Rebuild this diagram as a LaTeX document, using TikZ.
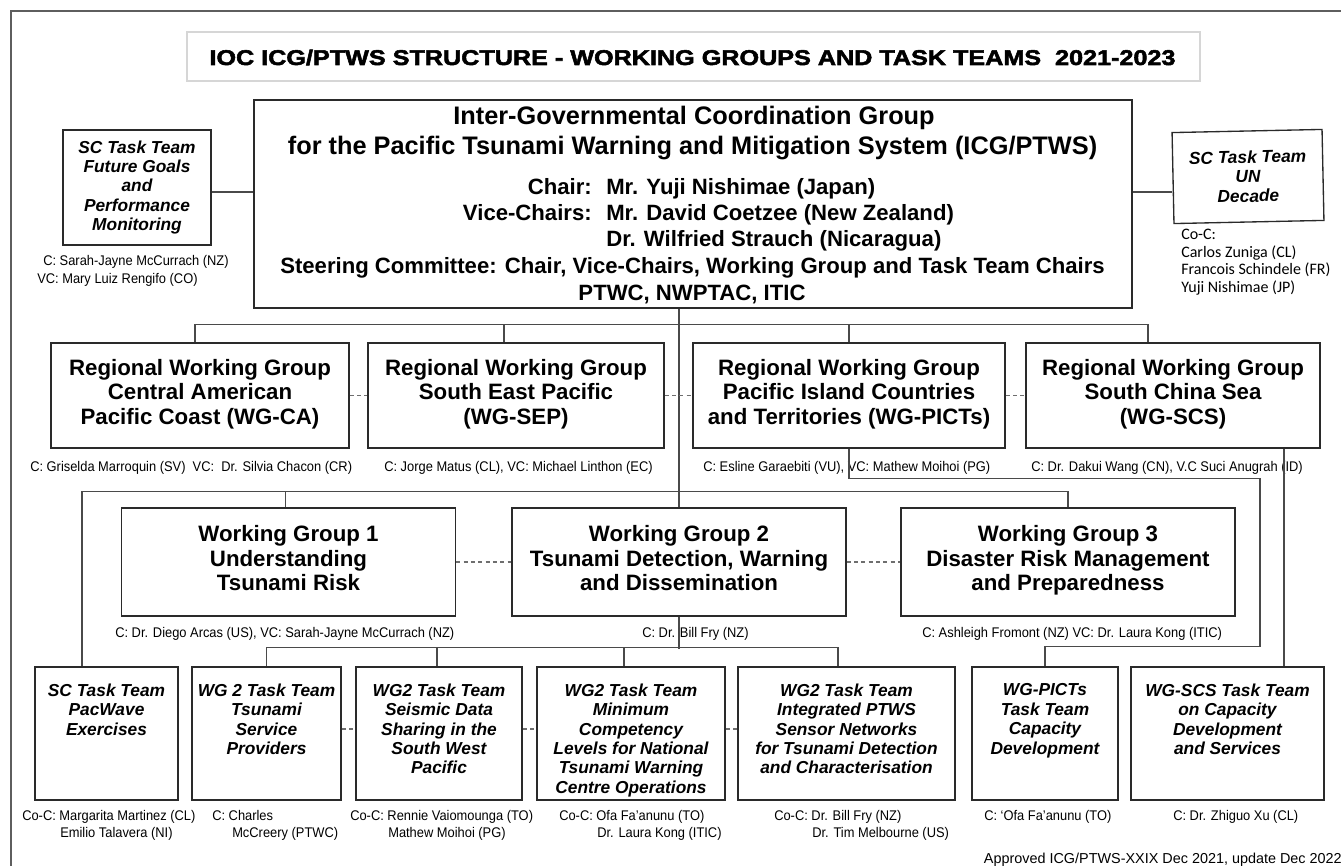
\documentclass[tikz,border=0pt]{standalone}
\usepackage{fontspec}
\setmainfont{Liberation Sans}
\newfontfamily\notefont{Liberation Sans}[FakeStretch=0.92]
\newfontfamily\calfont{Carlito}
\newfontfamily\heavyfont{Liberation Sans}[BoldFeatures={FakeBold=2.5,FakeStretch=1.18}]
\usetikzlibrary{positioning, calc}
\definecolor{boxline}{HTML}{2A2A2A}
\definecolor{connline}{HTML}{4A4A4A}
\definecolor{frameline}{HTML}{5E5E5E}
\definecolor{titleline}{HTML}{D6D6D6}
\tikzset{
  grpbox/.style={draw=boxline, line width=1pt, inner sep=0pt, align=center,
    font=\fontsize{16.7}{18.4}\selectfont\bfseries,
    execute at begin node={\strut}, execute at end node={\strut}},
  ttbox/.style={draw=boxline, line width=1pt, inner sep=0pt},
  scbox/.style={ttbox, align=center, font=\fontsize{13}{14.6}\selectfont\bfseries\itshape},
  conn/.style={draw=connline, line width=0.8pt},
  dashconn/.style={draw=connline!80, line width=0.8pt, dash pattern=on 3pt off 2.5pt},
  note/.style={inner sep=0pt, anchor=base west, font=\notefont\fontsize{10.5}{12.75}\selectfont},
  headtxt/.style={inner sep=0pt, anchor=base, font=\fontsize{19}{22}\selectfont\bfseries},
  chairtxt/.style={inner sep=0pt, font=\fontsize{16.6}{19}\selectfont\bfseries},
}

\begin{document}
\begin{tikzpicture}[x=0.75pt,y=-0.75pt]
    \useasboundingbox (0,0) rectangle (1341,866);
    \fill[white] (0,0) rectangle (1341,866);
    % frame and title
    \draw[frameline, line width=0.9pt] (11,880) -- (11,11) -- (1360,11);
    \node[draw=titleline, line width=1.4pt, minimum width=1013*0.75pt, minimum height=49*0.75pt, inner sep=0pt] (title) at (693.5,56.5) {};
    \node[inner sep=0pt, anchor=base, font=\heavyfont\fontsize{16}{18}\selectfont\bfseries] (titletxt) at (692.5,65) {IOC ICG/PTWS STRUCTURE - WORKING GROUPS AND TASK TEAMS\ \ 2021-2023};

    % ICG/PTWS
    \node[draw=boxline, line width=1pt, minimum width=878*0.75pt, minimum height=208*0.75pt, inner sep=0pt] (icg) at (693,204) {};
    \node[headtxt] (icgname) at (694,125) {Inter-Governmental Coordination Group};
    \node[headtxt] (icgfull) at (692.5,155) {for the Pacific Tsunami Warning and Mitigation System (ICG/PTWS)};
    \node[chairtxt, anchor=base east] (chairlbl) at (592,195) {Chair:};
    \node[chairtxt, anchor=base west] (chairnm) at (606,195) {Mr. Yuji Nishimae (Japan)};
    \node[chairtxt, anchor=base east] (vicelbl) at (592,221) {Vice-Chairs:};
    \node[chairtxt, anchor=base west] (vicenma) at (606,221) {Mr. David Coetzee (New Zealand)};
    \node[chairtxt, anchor=base west] (vicenmb) at (606,247) {Dr. Wilfried Strauch (Nicaragua)};
    \node[chairtxt, anchor=base] (steer) at (692.5,273) {Steering Committee: Chair, Vice-Chairs, Working Group and Task Team Chairs};
    \node[chairtxt, anchor=base] (ptwc) at (692,300) {PTWC, NWPTAC, ITIC};

    % steering committee task teams
    \node[scbox, minimum width=148*0.75pt, minimum height=115*0.75pt] (scfuture) at (137,187.5) {SC Task Team\\Future Goals\\and\\Performance\\Monitoring};
    \node[scbox, rotate=1.2, minimum width=150*0.75pt, minimum height=91*0.75pt] (scdecade) at (1248,176.5) {SC Task Team\\UN\\Decade};
    \draw[conn] ([yshift=-3.4pt]scfuture.east) -- ([yshift=-3.4pt]scfuture.east -| icg.west);
    \draw[conn] ([yshift=-3.4pt]icg.east |- scfuture.east) -- ([yshift=-3.4pt]scdecade.west |- scfuture.east);
    \node[note] (scfuturec) at (43,265) {C: Sarah-Jayne McCurrach (NZ)};
    \node[note] (scfuturevc) at (37,283) {VC: Mary Luiz Rengifo (CO)};
    \node[inner sep=0pt, anchor=north west, align=left, font=\calfont\fontsize{12}{13.2}\selectfont] (scdecadec) at (1181,229) {Co-C:\\Carlos Zuniga (CL)\\Francois Schindele (FR)\\Yuji Nishimae (JP)};

    % regional working groups
    \foreach \nm/\cx/\w/\txt in {
        rwgca/200/298/{Regional Working Group\\Central American\\Pacific Coast (WG-CA)},
        rwgsep/516/296/{Regional Working Group\\South East Pacific\\(WG-SEP)},
        rwgpicts/849/312/{Regional Working Group\\Pacific Island Countries\\and Territories (WG-PICTs)},
        rwgscs/1173/294/{Regional Working Group\\South China Sea\\(WG-SCS)}}
        \node[grpbox, minimum width=\w*0.75pt, minimum height=105*0.75pt] (\nm) at (\cx,395.5) {\txt};
    \node[note] (rwgcanote) at (30,471) {C: Griselda Marroquin (SV)\ \ VC:\ \ Dr. Silvia Chacon (CR)};
    \node[note] (rwgsepnote) at (384,471) {C: Jorge Matus (CL), VC: Michael Linthon (EC)};
    \node[note] (rwgpictsnote) at (703,471) {C: Esline Garaebiti (VU), VC: Mathew Moihoi (PG)};
    \node[note] (rwgscsnote) at (1031,471) {C: Dr. Dakui Wang (CN), V.C Suci Anugrah (ID)};

    % working groups
    \foreach \nm/\cx/\txt in {
        wgone/288.5/{Working Group 1\\Understanding\\Tsunami Risk},
        wgtwo/679/{Working Group 2\\Tsunami Detection, Warning\\and Dissemination},
        wgthree/1068/{Working Group 3\\Disaster Risk Management\\and Preparedness}}
        \node[grpbox, minimum width=334*0.75pt, minimum height=108*0.75pt] (\nm) at (\cx,562) {\txt};
    \node[note] (wgonenote) at (115,637) {C: Dr. Diego Arcas (US), VC: Sarah-Jayne McCurrach (NZ)};
    \node[note] (wgtwonote) at (642,637) {C: Dr. Bill Fry (NZ)};
    \node[note] (wgthreenote) at (922,637) {C: Ashleigh Fromont (NZ) VC: Dr. Laura Kong (ITIC)};

    % task teams
    \foreach \nm/\cx/\w/\txt in {
        ttpacwave/106.5/143/{SC Task Team\\PacWave\\Exercises},
        tttsp/266.5/149/{WG 2 Task Team\\Tsunami\\Service\\Providers},
        ttseismic/439/166/{WG2 Task Team\\Seismic Data\\Sharing in the\\South West\\Pacific},
        ttmincomp/631/188/{WG2 Task Team\\Minimum\\Competency\\Levels for National\\Tsunami Warning\\Centre Operations},
        ttsensor/846.5/217/{WG2 Task Team\\Integrated PTWS\\Sensor Networks\\for Tsunami Detection\\and Characterisation},
        ttpictscd/1045/146/{WG-PICTs\\Task Team\\Capacity\\Development},
        ttscscd/1227.5/193/{WG-SCS Task Team\\on Capacity\\Development\\and Services}}
        \node[ttbox, minimum width=\w*0.75pt, minimum height=133*0.75pt, font=\fontsize{13}{14.6}\selectfont\bfseries\itshape] (\nm) at (\cx,733.5)
            {\parbox[c][99pt][t]{0.75\dimexpr\w pt\relax}{\centering\vspace*{12pt}\txt}};
    \node[note] (pacwavea) at (22,820) {Co-C: Margarita Martinez (CL)};
    \node[note] (pacwaveb) at (60,837) {Emilio Talavera (NI)};
    \node[note] (tspa) at (212,820) {C: Charles};
    \node[note] (tspb) at (232,837) {McCreery (PTWC)};
    \node[note] (seismica) at (350,820) {Co-C: Rennie Vaiomounga (TO)};
    \node[note] (seismicb) at (388,837) {Mathew Moihoi (PG)};
    \node[note] (mincompa) at (559,820) {Co-C: Ofa Fa’anunu (TO)};
    \node[note] (mincompb) at (597,837) {Dr. Laura Kong (ITIC)};
    \node[note] (sensora) at (774,820) {Co-C: Dr. Bill Fry (NZ)};
    \node[note] (sensorb) at (812,837) {Dr. Tim Melbourne (US)};
    \node[note] (pictscda) at (984,820) {C: ‘Ofa Fa’anunu (TO)};
    \node[note] (scscda) at (1173,820) {C: Dr. Zhiguo Xu (CL)};
    \node[inner sep=0pt, anchor=base east, font=\fontsize{10.8}{13}\selectfont] (approved) at (1342,863) {Approved ICG/PTWS-XXIX Dec 2021, update Dec 2022};

    % connectors
    \draw[conn] (icg.south -| wgtwo.north) -- (wgtwo.north);
    \draw[conn] ([xshift=-3.75pt]rwgca.north) -- ++(0,-18) -| ([xshift=-18.75pt]rwgscs.north);
    \draw[conn] ([xshift=-9pt]rwgsep.north) -- ++(0,-18);
    \draw[conn] (rwgpicts.north) -- ++(0,-18);
    \draw[conn] (wgthree.north) -- ++(0,-16) -| ([xshift=-18.4pt]ttpacwave.north);
    \draw[conn] ([xshift=-2.6pt]wgone.north) -- ++(0,-16);
    \draw[conn] (wgtwo.south) -- ++(0,32);
    \draw[conn] (tttsp.north) -- ++(0,-19) -| ([xshift=-6.4pt]ttsensor.north);
    \draw[conn] ([xshift=-1.5pt]ttseismic.north) -- ++(0,-19);
    \draw[conn] ([xshift=-5.25pt]ttmincomp.north) -- ++(0,-19);
    \draw[conn] (rwgpicts.south) -- ++(0,30) -| ++(411,168) -| (ttpictscd.north);
    \draw[conn] ([xshift=83.25pt]rwgscs.south) -- ([xshift=83.25pt]rwgscs.south |- ttscscd.north);
    \draw[dashconn] (rwgca.east) -- (rwgsep.west);
    \draw[dashconn] (rwgsep.east) -- (rwgpicts.west);
    \draw[dashconn] (rwgpicts.east) -- (rwgscs.west);
    \draw[dashconn] (wgone.east) -- (wgtwo.west);
    \draw[dashconn] (wgtwo.east) -- (wgthree.west);
    \foreach \a/\b in {tttsp/ttseismic, ttseismic/ttmincomp, ttmincomp/ttsensor}
        \draw[dashconn] ([yshift=3.4pt]\a.east) -- ([yshift=3.4pt]\b.west);
\end{tikzpicture}
\end{document}
